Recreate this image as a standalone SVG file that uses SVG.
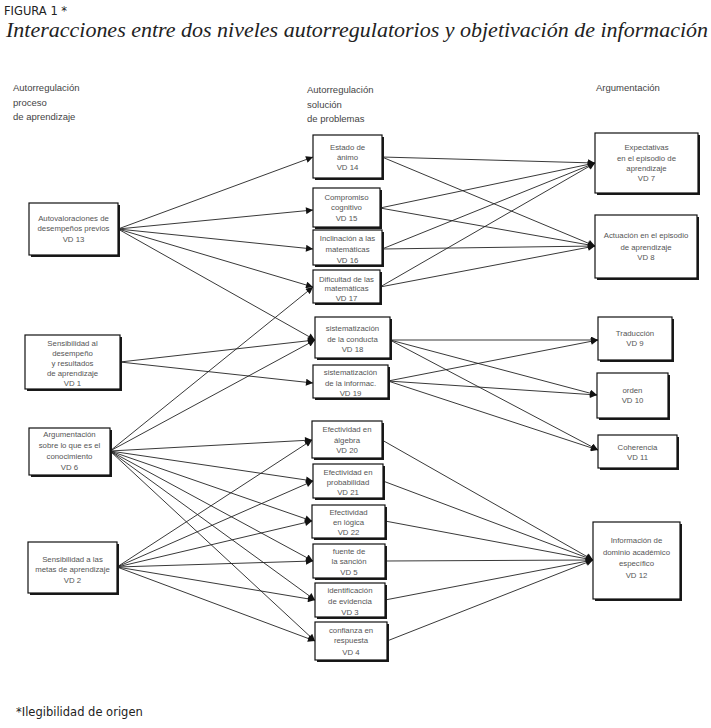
<svg xmlns="http://www.w3.org/2000/svg" width="711" height="728" viewBox="0 0 711 728">
<style>
.sh{fill:#1a1a1a}
.bx{fill:#fff;stroke:#111;stroke-width:1.2}
.t{font-family:"Liberation Sans",Arial,sans-serif;font-size:7.8px;fill:#555;text-anchor:middle}
.h{font-family:"Liberation Sans",Arial,sans-serif;font-size:9.5px;fill:#444}
.e line{stroke:#222;stroke-width:0.9;marker-end:url(#ah)}
</style>
<defs>
<marker id="ah" viewBox="0 0 10 10" refX="10" refY="5" markerWidth="9" markerHeight="7" orient="auto" markerUnits="userSpaceOnUse"><path d="M0,0 L10,5 L0,10 z" fill="#111"/></marker>
</defs>
<rect width="711" height="728" fill="#fff"/>
<text x="4" y="15" font-family="DejaVu Sans,Verdana,sans-serif" font-size="11.5" fill="#222">FIGURA 1 *</text>
<text x="6" y="37" font-family="Liberation Serif,Times New Roman,serif" font-style="italic" font-size="20" fill="#222" textLength="702" lengthAdjust="spacingAndGlyphs">Interacciones entre dos niveles autorregulatorios y objetivación de información</text>
<g id="headers">
<text class="h" x="13" y="91">Autorregulación</text>
<text class="h" x="13" y="106">proceso</text>
<text class="h" x="13" y="120">de aprendizaje</text>
<text class="h" x="307" y="93">Autorregulación</text>
<text class="h" x="307" y="108">solución</text>
<text class="h" x="307" y="122">de problemas</text>
<text class="h" x="596" y="91">Argumentación</text>
</g>
<g class="e" id="connectors">
<line x1="118" y1="229" x2="313" y2="157"/>
<line x1="118" y1="229" x2="313" y2="210"/>
<line x1="118" y1="229" x2="313" y2="249"/>
<line x1="118" y1="229" x2="313" y2="287"/>
<line x1="118" y1="229" x2="315" y2="340"/>
<line x1="120" y1="362" x2="315" y2="340"/>
<line x1="120" y1="362" x2="313" y2="383"/>
<line x1="110" y1="451" x2="313" y2="287"/>
<line x1="110" y1="451" x2="315" y2="340"/>
<line x1="110" y1="451" x2="312" y2="440"/>
<line x1="110" y1="451" x2="313" y2="481"/>
<line x1="110" y1="451" x2="312" y2="521"/>
<line x1="110" y1="451" x2="313" y2="561"/>
<line x1="110" y1="451" x2="315" y2="600"/>
<line x1="110" y1="451" x2="315" y2="641"/>
<line x1="117" y1="567" x2="312" y2="440"/>
<line x1="117" y1="567" x2="313" y2="481"/>
<line x1="117" y1="567" x2="312" y2="521"/>
<line x1="117" y1="567" x2="313" y2="561"/>
<line x1="117" y1="567" x2="315" y2="600"/>
<line x1="117" y1="567" x2="315" y2="641"/>
<line x1="382" y1="157" x2="595" y2="163"/>
<line x1="382" y1="157" x2="595" y2="246"/>
<line x1="380" y1="208" x2="595" y2="163"/>
<line x1="380" y1="208" x2="595" y2="246"/>
<line x1="382" y1="249" x2="595" y2="163"/>
<line x1="382" y1="249" x2="595" y2="246"/>
<line x1="380" y1="287" x2="595" y2="163"/>
<line x1="380" y1="287" x2="595" y2="246"/>
<line x1="390" y1="340" x2="598" y2="340"/>
<line x1="390" y1="340" x2="597" y2="395"/>
<line x1="390" y1="340" x2="598" y2="450"/>
<line x1="388" y1="381" x2="598" y2="340"/>
<line x1="388" y1="381" x2="597" y2="395"/>
<line x1="388" y1="381" x2="598" y2="450"/>
<line x1="382" y1="440" x2="593" y2="560"/>
<line x1="383" y1="481" x2="593" y2="560"/>
<line x1="385" y1="521" x2="593" y2="560"/>
<line x1="385" y1="561" x2="593" y2="560"/>
<line x1="385" y1="600" x2="593" y2="560"/>
<line x1="387" y1="641" x2="593" y2="560"/>
</g>
<g id="n13"><rect class="sh" x="31" y="205" width="89" height="52"/><rect class="bx" x="29" y="203" width="89" height="52"/><text class="t" x="73.5" y="221">Autovaloraciones de</text><text class="t" x="73.5" y="231">desempeños previos</text><text class="t" x="73.5" y="242">VD 13</text></g>
<g id="n1"><rect class="sh" x="27" y="337" width="95" height="54"/><rect class="bx" x="25" y="335" width="95" height="54"/><text class="t" x="72.5" y="346">Sensibilidad al</text><text class="t" x="72.5" y="356">desempeño</text><text class="t" x="72.5" y="366">y resultados</text><text class="t" x="72.5" y="376">de aprendizaje</text><text class="t" x="72.5" y="386">VD 1</text></g>
<g id="n6"><rect class="sh" x="31" y="430" width="81" height="47"/><rect class="bx" x="29" y="428" width="81" height="47"/><text class="t" x="69.5" y="437">Argumentación</text><text class="t" x="69.5" y="448">sobre lo que es el</text><text class="t" x="69.5" y="459">conocimiento</text><text class="t" x="69.5" y="470">VD 6</text></g>
<g id="n2"><rect class="sh" x="30" y="544" width="89" height="51"/><rect class="bx" x="28" y="542" width="89" height="51"/><text class="t" x="72.5" y="562">Sensibilidad a las</text><text class="t" x="72.5" y="572">metas de aprendizaje</text><text class="t" x="72.5" y="583">VD 2</text></g>
<g id="n14"><rect class="sh" x="315" y="137" width="69" height="43"/><rect class="bx" x="313" y="135" width="69" height="43"/><text class="t" x="347.5" y="150">Estado de</text><text class="t" x="347.5" y="160">ánimo</text><text class="t" x="347.5" y="170">VD 14</text></g>
<g id="n15"><rect class="sh" x="315" y="190" width="67" height="39"/><rect class="bx" x="313" y="188" width="67" height="39"/><text class="t" x="346.5" y="200">Compromiso</text><text class="t" x="346.5" y="210">cognitivo</text><text class="t" x="346.5" y="221">VD 15</text></g>
<g id="n16"><rect class="sh" x="315" y="232" width="69" height="35"/><rect class="bx" x="313" y="230" width="69" height="35"/><text class="t" x="347.5" y="241">Inclinación a las</text><text class="t" x="347.5" y="252">matemáticas</text><text class="t" x="347.5" y="263">VD 16</text></g>
<g id="n17"><rect class="sh" x="315" y="272" width="67" height="33"/><rect class="bx" x="313" y="270" width="67" height="33"/><text class="t" x="346.5" y="282">Dificultad de las</text><text class="t" x="346.5" y="291">matemáticas</text><text class="t" x="346.5" y="301">VD 17</text></g>
<g id="n18"><rect class="sh" x="317" y="319" width="75" height="41"/><rect class="bx" x="315" y="317" width="75" height="41"/><text class="t" x="352.5" y="331">sistematización</text><text class="t" x="352.5" y="342">de la conducta</text><text class="t" x="352.5" y="352">VD 18</text></g>
<g id="n19"><rect class="sh" x="315" y="367" width="75" height="33"/><rect class="bx" x="313" y="365" width="75" height="33"/><text class="t" x="350.5" y="375">sistematización</text><text class="t" x="350.5" y="386">de la informac.</text><text class="t" x="350.5" y="396">VD 19</text></g>
<g id="n20"><rect class="sh" x="314" y="423" width="70" height="37"/><rect class="bx" x="312" y="421" width="70" height="37"/><text class="t" x="347" y="432">Efectividad en</text><text class="t" x="347" y="443">álgebra</text><text class="t" x="347" y="453">VD 20</text></g>
<g id="n21"><rect class="sh" x="315" y="466" width="70" height="34"/><rect class="bx" x="313" y="464" width="70" height="34"/><text class="t" x="348" y="475">Efectividad en</text><text class="t" x="348" y="485">probabilidad</text><text class="t" x="348" y="495">VD 21</text></g>
<g id="n22"><rect class="sh" x="314" y="507" width="73" height="33"/><rect class="bx" x="312" y="505" width="73" height="33"/><text class="t" x="348.5" y="515">Efectividad</text><text class="t" x="348.5" y="525">en lógica</text><text class="t" x="348.5" y="535">VD 22</text></g>
<g id="n5"><rect class="sh" x="315" y="546" width="72" height="34"/><rect class="bx" x="313" y="544" width="72" height="34"/><text class="t" x="349" y="554">fuente de</text><text class="t" x="349" y="564">la sanción</text><text class="t" x="349" y="575">VD 5</text></g>
<g id="n3"><rect class="sh" x="317" y="585" width="70" height="34"/><rect class="bx" x="315" y="583" width="70" height="34"/><text class="t" x="350" y="593">identificación</text><text class="t" x="350" y="604">de evidencia</text><text class="t" x="350" y="615">VD 3</text></g>
<g id="n4"><rect class="sh" x="317" y="624" width="72" height="38"/><rect class="bx" x="315" y="622" width="72" height="38"/><text class="t" x="351" y="633">confianza en</text><text class="t" x="351" y="643">respuesta</text><text class="t" x="351" y="655">VD 4</text></g>
<g id="n7"><rect class="sh" x="597" y="135" width="103" height="60"/><rect class="bx" x="595" y="133" width="103" height="60"/><text class="t" x="646.5" y="150">Expectativas</text><text class="t" x="646.5" y="161">en el episodio de</text><text class="t" x="646.5" y="171">aprendizaje</text><text class="t" x="646.5" y="181">VD 7</text></g>
<g id="n8"><rect class="sh" x="597" y="217" width="102" height="63"/><rect class="bx" x="595" y="215" width="102" height="63"/><text class="t" x="646" y="238">Actuación en el episodio</text><text class="t" x="646" y="250">de aprendizaje</text><text class="t" x="646" y="260">VD 8</text></g>
<g id="n9"><rect class="sh" x="600" y="319" width="74" height="43"/><rect class="bx" x="598" y="317" width="74" height="43"/><text class="t" x="635" y="336">Traducción</text><text class="t" x="635" y="346">VD 9</text></g>
<g id="n10"><rect class="sh" x="599" y="375" width="71" height="45"/><rect class="bx" x="597" y="373" width="71" height="45"/><text class="t" x="632.5" y="393">orden</text><text class="t" x="632.5" y="403">VD 10</text></g>
<g id="n11"><rect class="sh" x="600" y="437" width="79" height="33"/><rect class="bx" x="598" y="435" width="79" height="33"/><text class="t" x="637.5" y="450">Coherencia</text><text class="t" x="637.5" y="460">VD 11</text></g>
<g id="n12"><rect class="sh" x="595" y="524" width="87" height="77"/><rect class="bx" x="593" y="522" width="87" height="77"/><text class="t" x="636.5" y="543">Información de</text><text class="t" x="636.5" y="555">dominio académico</text><text class="t" x="636.5" y="566">específico</text><text class="t" x="636.5" y="578">VD 12</text></g>
<text x="16" y="716" font-family="DejaVu Sans,Verdana,sans-serif" font-size="11.5" fill="#222">*Ilegibilidad de origen</text>
</svg>
